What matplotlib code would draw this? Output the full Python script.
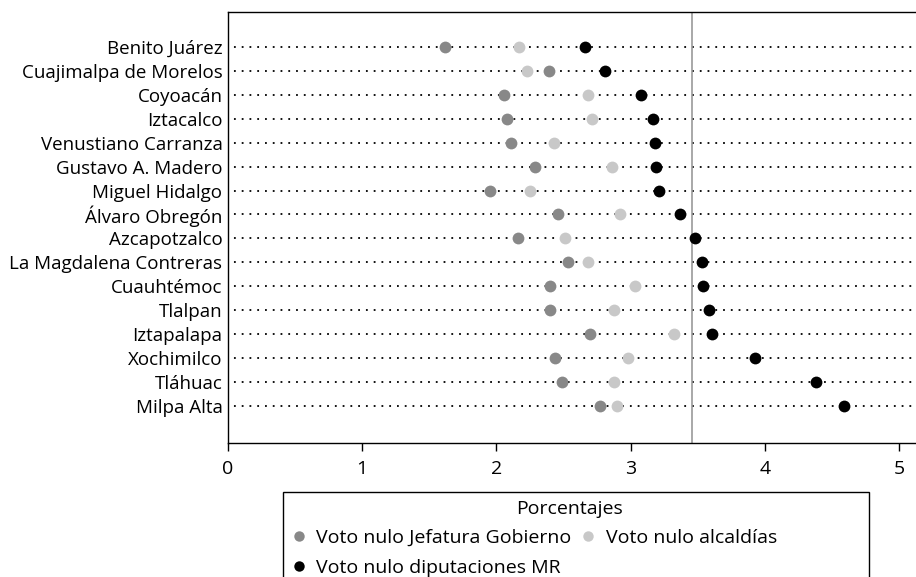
import matplotlib
matplotlib.use("Agg")
import matplotlib.pyplot as plt
from matplotlib.lines import Line2D
from matplotlib.patches import Rectangle

plt.rcParams['font.family'] = ['Open Sans', 'DejaVu Sans']

alcaldias = ["Benito Juárez", "Cuajimalpa de Morelos", "Coyoacán", "Iztacalco",
             "Venustiano Carranza", "Gustavo A. Madero", "Miguel Hidalgo",
             "Álvaro Obregón", "Azcapotzalco", "La Magdalena Contreras",
             "Cuauhtémoc", "Tlalpan", "Iztapalapa", "Xochimilco", "Tláhuac",
             "Milpa Alta"]
jefatura = [1.62, 2.39, 2.06, 2.08, 2.11, 2.29, 1.95, 2.46, 2.16, 2.53,
            2.40, 2.40, 2.70, 2.44, 2.49, 2.77]
alcaldia = [2.17, 2.23, 2.68, 2.71, 2.43, 2.86, 2.25, 2.92, 2.51, 2.68,
            3.03, 2.88, 3.32, 2.98, 2.88, 2.90]
diputaciones = [2.66, 2.81, 3.08, 3.17, 3.18, 3.19, 3.21, 3.37, 3.48, 3.53,
                3.54, 3.585, 3.61, 3.93, 4.38, 4.59]
promedio = 3.46
xticks = [0, 1, 2, 3, 4, 5]
serie_labels = ["Voto nulo Jefatura Gobierno", "Voto nulo alcaldías",
                "Voto nulo diputaciones MR"]
serie_colors = ['#888888', '#c8c8c8', 'black']

W, H = 916, 577
fig = plt.figure(figsize=(W / 100, H / 100), dpi=100)
ax = fig.add_axes([228 / W, 1 - 443 / H, 688 / W, 431 / H])

n = len(alcaldias)
ys = list(range(n))
for y in ys:
    ax.axhline(y, color='black', lw=1.3, linestyle=(1, (1, 3.3)), zorder=1)

ax.axvline(promedio, color='#999999', lw=1.2, zorder=2)

ms = 8.5
ax.plot(jefatura, ys, 'o', color=serie_colors[0], ms=ms, mew=0, zorder=3)
ax.plot(alcaldia, ys, 'o', color=serie_colors[1], ms=ms, mew=0, zorder=3)
ax.plot(diputaciones, ys, 'o', color=serie_colors[2], ms=ms, mew=0, zorder=4)

ax.set_xlim(0, 688 / 134.2)
ax.set_ylim(n - 1 + 1.55, -1.46)
ax.set_yticks(ys)
ax.set_yticklabels(alcaldias, fontsize=13.5)
ax.tick_params(axis='y', length=0, pad=4)
ax.set_xticks(xticks)
ax.set_xticklabels([str(t) for t in xticks], fontsize=14)
ax.tick_params(axis='x', length=6, width=1, direction='out', pad=6)
ax.spines['right'].set_visible(False)
for s in ['left', 'top', 'bottom']:
    ax.spines[s].set_linewidth(1.0)

# legend frame and title
fig.add_artist(Rectangle((283 / W, -0.2), (869 - 283) / W, 0.2 + 1 - 492 / H,
                         transform=fig.transFigure, fill=False,
                         edgecolor='black', lw=1.0, clip_on=False))
fig.text(569 / W, 1 - 514 / H, "Porcentajes", ha='center', va='baseline',
         fontsize=14)

handles = [
    Line2D([], [], marker='o', ls='', color=serie_colors[0], ms=7.5, mew=0),
    Line2D([], [], marker='o', ls='', color=serie_colors[2], ms=7.5, mew=0),
    Line2D([], [], marker='o', ls='', color=serie_colors[1], ms=7.5, mew=0),
]
labels = [serie_labels[0], serie_labels[2], serie_labels[1]]
leg = fig.legend(handles, labels, ncol=2, loc='upper left',
                 bbox_to_anchor=(290 / W, 1 - 529 / H),
                 fontsize=14, frameon=False, borderpad=0, borderaxespad=0,
                 handletextpad=0.45, columnspacing=0.4, handlelength=0.9,
                 labelspacing=0.6)

fig.savefig("out.png", dpi=100)
